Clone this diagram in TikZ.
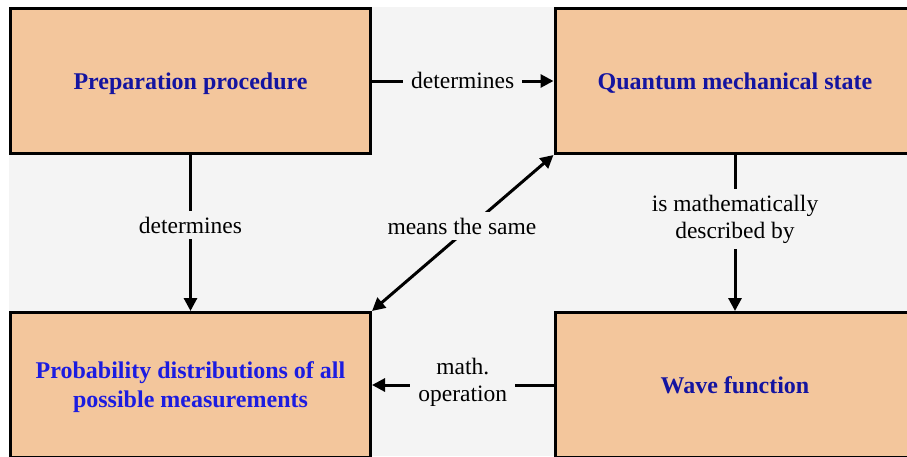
\documentclass[tikz,border=0pt]{standalone}
\usepackage{fontspec}
\setmainfont{Liberation Serif}
\usetikzlibrary{arrows.meta}
\definecolor{bg}{RGB}{244,244,244}
\definecolor{peach}{RGB}{243,198,156}
\definecolor{navy}{RGB}{20,20,160}
\definecolor{brightblue}{RGB}{28,28,224}
\begin{document}
\begin{tikzpicture}[x=1pt,y=-1pt,
  box/.style={draw=black, line width=3pt, fill=peach, minimum width=360pt, minimum height=145pt, inner sep=0pt, font=\bfseries\fontsize{24}{29}\selectfont, text=navy, align=center, text depth=0pt},
  conn/.style={line width=3pt, -{Triangle[length=13pt,width=13pt]}},
  both/.style={line width=3pt, {Triangle[length=13pt,width=13pt]}-{Triangle[length=13pt,width=13pt]}},
  lbl/.style={fill=bg, inner xsep=8pt, inner ysep=5.5pt, font=\fontsize{23.5}{27}\selectfont, align=center, text=black}]
\useasboundingbox (0,0) rectangle (907,456);
\clip (0,0) rectangle (907,456);
\fill[white] (0,0) rectangle (907,456);
\fill[bg] (9,7) rectangle (907,456);
\node[box] (prep) at (190.5,81) {Preparation procedure};
\node[box] (quant) at (735,81) {Quantum mechanical state};
\node[box, text=brightblue] (prob) at (190.5,385) {Probability distributions of all\\possible measurements};
\node[box] (wave) at (735,385) {Wave function};
\draw[conn] (prep.east) -- (quant.west) node[lbl, midway, yshift=1pt] {determines};
\draw[conn] (prep.south) -- (prob.north) node[lbl, pos=0.45] {determines};
\draw[conn] (quant.south) -- (wave.north) node[lbl, pos=0.41] {is mathematically\\described by};
\draw[conn] (wave.west) -- (prob.east) node[lbl, midway, yshift=2.5pt] {math.\\operation};
\draw[both] (prob.north east) -- (quant.south west) node[lbl, pos=0.545, xshift=-9pt] {means the same};
\end{tikzpicture}
\end{document}
